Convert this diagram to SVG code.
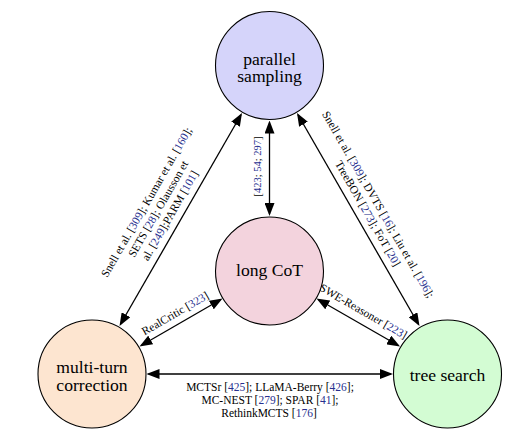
<svg xmlns="http://www.w3.org/2000/svg" width="518" height="438" viewBox="0 0 518 438">
<style>
.node{stroke:#000;stroke-width:1.1}
.nt{font-family:"Liberation Serif","Times New Roman",serif;font-size:17.6px;fill:#000;text-anchor:middle}
.lb{font-family:"Liberation Serif","Times New Roman",serif;font-size:11.5px;fill:#000;text-anchor:middle}
.c{fill:#27308f}
.ed{stroke:#000;stroke-width:1.3;fill:none;marker-start:url(#ah);marker-end:url(#ah)}
</style>
<defs>
<marker id="ah" markerUnits="userSpaceOnUse" viewBox="0 0 13 10" markerWidth="13" markerHeight="10" refX="11" refY="5" orient="auto-start-reverse">
<path d="M0,0 L13,5 L0,10 Z" fill="#000"/>
</marker>
</defs>
<rect width="518" height="438" fill="#fff"/>
<g id="connectors">
<line class="ed" x1="120.5" y1="324.3" x2="241" y2="114.7"/>
<line class="ed" x1="298" y1="114.7" x2="418.5" y2="324.3"/>
<line class="ed" x1="269.5" y1="122.5" x2="269.5" y2="214"/>
<line class="ed" x1="220.8" y1="299.5" x2="141.2" y2="345.5"/>
<line class="ed" x1="318.2" y1="299.5" x2="398.3" y2="345.5"/>
<line class="ed" x1="148.5" y1="374" x2="391" y2="374"/>
<g transform="translate(180.75,219.5) rotate(-60.1)">
<text class="lb" x="-2" y="-34.5">Snell et al. [<tspan class="c">309</tspan>]; Kumar et al. [<tspan class="c">160</tspan>];</text>
<text class="lb" x="-2" y="-21">SETS [<tspan class="c">28</tspan>]; Olausson et</text>
<text class="lb" x="-2" y="-7.5">al. [<tspan class="c">249</tspan>];PARM [<tspan class="c">101</tspan>]</text>
</g>
<g transform="translate(358.25,219.5) rotate(60.1)">
<text class="lb" x="-3" y="-21">Snell et al. [<tspan class="c">309</tspan>]; DVTS [<tspan class="c">16</tspan>]; Liu et al. [<tspan class="c">196</tspan>];</text>
<text class="lb" x="-0.5" y="-7.5">TreeBON [<tspan class="c">273</tspan>]; FoT [<tspan class="c">20</tspan>]</text>
</g>
<g transform="translate(260.5,166.5) rotate(-90)">
<text class="lb" x="0" y="0" style="font-size:10.5px">[<tspan class="c">423</tspan>; <tspan class="c">54</tspan>; <tspan class="c">297</tspan>]</text>
</g>
<g transform="translate(181,322.5) rotate(-30.05)">
<text class="lb" x="-0.5" y="-7">RealCritic [<tspan class="c">323</tspan>]</text>
</g>
<g transform="translate(358.25,322.5) rotate(29.9)">
<text class="lb" x="-1" y="-8.5">SWE-Reasoner [<tspan class="c">223</tspan>]</text>
</g>
<text class="lb" x="270" y="390.5">MCTSr [<tspan class="c">425</tspan>]; LLaMA-Berry [<tspan class="c">426</tspan>];</text>
<text class="lb" x="270" y="403.5">MC-NEST [<tspan class="c">279</tspan>]; SPAR [<tspan class="c">41</tspan>];</text>
<text class="lb" x="269" y="416.5">RethinkMCTS [<tspan class="c">176</tspan>]</text>
</g>
<g id="parallel-sampling">
<circle class="node" cx="269.5" cy="65.5" r="54" fill="#d5d4fa"/>
<text class="nt" x="269.5" y="64.5">parallel</text>
<text class="nt" x="269.5" y="82">sampling</text>
</g>
<g id="long-cot">
<circle class="node" cx="269.5" cy="271" r="54" fill="#f3d3dd"/>
<text class="nt" x="269.5" y="276">long CoT</text>
</g>
<g id="multi-turn-correction">
<circle class="node" cx="92" cy="374" r="54" fill="#fde5d0"/>
<text class="nt" x="92" y="373">multi-turn</text>
<text class="nt" x="92" y="391">correction</text>
</g>
<g id="tree-search">
<circle class="node" cx="447.5" cy="374" r="54" fill="#d3fcd3"/>
<text class="nt" x="447.5" y="380.5">tree search</text>
</g>
</svg>
